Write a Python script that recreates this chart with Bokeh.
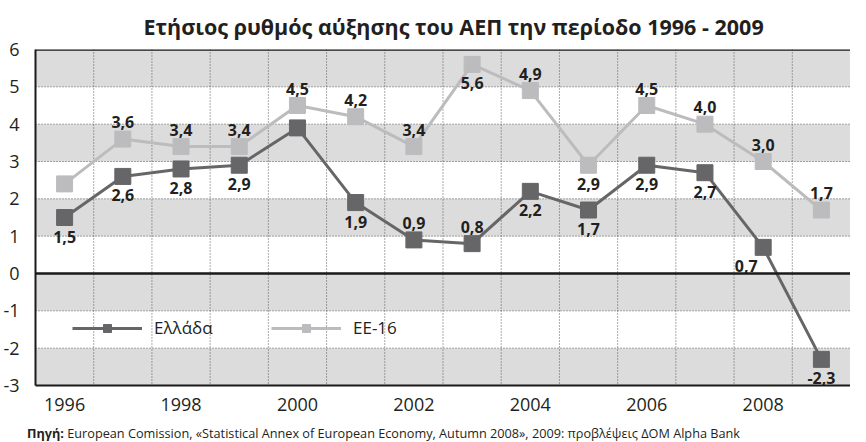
from bokeh.plotting import figure
from bokeh.models import (FixedTicker, Span, Legend, LegendItem, Title, Div,
                          ColumnDataSource, Range1d, CustomJSTickFormatter)
from bokeh.layouts import column
from bokeh.core.properties import value
from bokeh.embed import file_html
from bokeh.resources import INLINE

# ---- data ----
years = [1996, 1997, 1998, 1999, 2000, 2001, 2002, 2003, 2004, 2005, 2006, 2007, 2008, 2009]
greece = [1.5, 2.6, 2.8, 2.9, 3.9, 1.9, 0.9, 0.8, 2.2, 1.7, 2.9, 2.7, 0.7, -2.3]
ee16 = [2.4, 3.6, 3.4, 3.4, 4.5, 4.2, 3.4, 5.6, 4.9, 2.9, 4.5, 4.0, 3.0, 1.7]
y_ticks = [-3, -2, -1, 0, 1, 2, 3, 4, 5, 6]
x_tick_years = [1996, 1998, 2000, 2002, 2004, 2006, 2008]
title_text = "Ετήσιος ρυθμός αύξησης του ΑΕΠ την περίοδο 1996 - 2009"
source_bold = "Πηγή:"
source_rest = " European Comission, «Statistical Annex of European Economy, Autumn 2008», 2009: προβλέψεις ΔΟΜ Alpha Bank"

# label placement (style): 'a' above, 'b' below, 'l' below-left, '' none
greece_pos = ['b', 'b', 'b', 'b', '', 'b', 'a', 'a', 'b', 'b', 'b', 'b', 'l', 'b']
ee16_pos = ['', 'a', 'a', 'a', 'a', 'a', 'a', 'b', 'a', 'b', 'a', 'a', 'a', 'a']

DARK = "#666668"
LIGHT = "#bcbcbe"
BAND = "#dcdcdd"
GRID = "#555555"
FONT = "Open Sans"
TXT = "#231f20"

p = figure(width=850, height=418, output_backend="svg", toolbar_location=None,
           x_range=Range1d(years[0] - 0.5, years[-1] + 0.5),
           y_range=Range1d(y_ticks[0], y_ticks[-1]),
           min_border_left=29, min_border_right=0, min_border_top=0,
           min_border_bottom=33)
p.outline_line_color = None
p.background_fill_color = "white"
p.border_fill_color = "white"

# title
p.title = Title(text=title_text, align="left", text_font=FONT,
                text_font_size="21.5px", text_font_style="bold",
                text_color=TXT, standoff=18, offset=108)

# axes
p.xaxis.ticker = FixedTicker(ticks=x_tick_years)
p.yaxis.ticker = FixedTicker(ticks=y_ticks)
fmt_js = CustomJSTickFormatter(code="return tick.toString();")
for ax in (p.xaxis[0], p.yaxis[0]):
    ax.major_tick_line_color = None
    ax.minor_tick_line_color = None
    ax.axis_line_color = "#1a1a1a"
    ax.axis_line_width = 2
    ax.major_label_text_font = FONT
    ax.major_label_text_color = TXT
p.yaxis.formatter = fmt_js
p.xaxis.major_label_text_font_size = "18px"
p.yaxis.major_label_text_font_size = "18px"
p.xaxis.major_label_standoff = 6
p.yaxis.major_label_standoff = 10

# background bands
p.xgrid.grid_line_color = None
p.ygrid.ticker = FixedTicker(ticks=[y_ticks[0]] + y_ticks)
p.ygrid.grid_line_color = None
p.ygrid.band_fill_color = BAND
p.ygrid.band_fill_alpha = 1.0

# dotted grid lines
for b in [y + 0.5 for y in years[:-1]]:
    p.add_layout(Span(location=b, dimension="height", line_color=GRID,
                      line_width=1, line_dash="1 2", level="underlay"))
for t in y_ticks[1:-1]:
    p.add_layout(Span(location=t, dimension="width", line_color=GRID,
                      line_width=1, line_dash="1 2", level="underlay"))

# top frame line and zero line
p.add_layout(Span(location=y_ticks[-1], dimension="width", line_color="#1a1a1a", line_width=2.5))
p.add_layout(Span(location=0, dimension="width", line_color="#1a1a1a", line_width=2.5))


def fmt(v):
    return f"{v:.1f}".replace(".", ",")


def series(vals, color, pos):
    src = ColumnDataSource(dict(x=years, y=vals))
    ln = p.line("x", "y", source=src, line_color=color, line_width=3)
    sq = p.scatter("x", "y", source=src, marker="square", size=16,
                   fill_color=color, line_color=color)
    xs, ys, ts, xo, yo = [], [], [], [], []
    for x, v, ps in zip(years, vals, pos):
        if not ps:
            continue
        xs.append(x); ys.append(v); ts.append(fmt(v))
        if ps == 'a':
            xo.append(0); yo.append(-17)
        elif ps == 'b':
            xo.append(0); yo.append(19)
        else:
            xo.append(-17); yo.append(19)
    lsrc = ColumnDataSource(dict(x=xs, y=ys, t=ts, xo=xo, yo=yo))
    p.text("x", "y", text="t", source=lsrc, x_offset="xo", y_offset="yo",
           text_font=value(FONT), text_font_size="16px", text_font_style="bold",
           text_color=TXT, text_align="center", text_baseline="middle")
    return ln, sq


g_ln, g_sq = series(greece, DARK, greece_pos)
e_ln, e_sq = series(ee16, LIGHT, ee16_pos)

for renderers, label, xloc in (([g_ln, g_sq], "Ελλάδα", 37), ([e_ln, e_sq], "ΕΕ-16", 236)):
    lg = Legend(items=[LegendItem(label=label, renderers=renderers)],
                location=(xloc, 46), glyph_width=70, glyph_height=20,
                label_standoff=12, padding=0, margin=0, spacing=0,
                background_fill_alpha=0, border_line_alpha=0,
                label_text_font=FONT, label_text_font_size="17px",
                label_text_color=TXT)
    p.add_layout(lg, "center")

src_div = Div(text=f"<b>{source_bold}</b>{source_rest}", width=850, height=22,
              styles={"font-family": FONT, "font-size": "12.7px", "color": TXT,
                      "padding-left": "27px", "padding-top": "8px", "margin": "0",
                      "line-height": "14px", "white-space": "nowrap"})

layout = column(p, src_div, spacing=0)
open("out.html", "w").write(file_html(layout, INLINE))
